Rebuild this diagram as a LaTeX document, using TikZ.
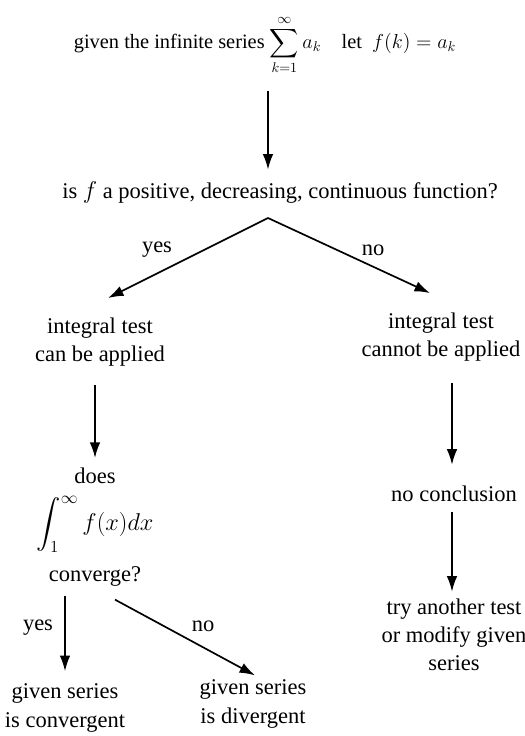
\documentclass[tikz,border=0pt]{standalone}
\usepackage{amsmath}
\usepackage[no-math]{fontspec}
\setmainfont{Liberation Serif}
\usetikzlibrary{arrows.meta}

\begin{document}
\begin{tikzpicture}[
    x=0.025cm, y=-0.025cm,
    every node/.style={font=\fontsize{16}{20}\selectfont, align=center, inner sep=1pt},
    toptext/.style={font=\fontsize{14.5}{18}\selectfont},
    arrow/.style={-{Latex[length=11pt, width=7.5pt]}, line width=1.2pt}
]
\useasboundingbox (0,0) rectangle (525,736);

\node (given)  [toptext] at (265,45)
    {given the infinite series\ $\displaystyle\sum_{k=1}^{\infty} a_k$\quad let\ \ $f(k)=a_k$};
\node (ask)    at (280,192) {is $f$ a positive, decreasing, continuous function?};
\coordinate (fork) at (268,218);
\node (can)    at (100,342) {integral test\\can be applied};
\node (cannot) at (441,337) {integral test\\cannot be applied};
\node (does)   at (95,527)
    {does\\[8pt]{\fontsize{18}{20}\selectfont$\displaystyle\int_1^\infty f(x)dx$}\\[9pt]converge?};
\node (nocon)  at (454,494) {no conclusion};
\node (other)  at (454,635) {try another test\\or modify given\\series};
\node (conv)   at (65,708)  {given series\\is convergent};
\node (div)    at (253,704) {given series\\is divergent};

\node (yes1) at (157,250) {yes};
\node (no1)  at (373,250) {no};
\node (yes2) at (38,628)  {yes};
\node (no2)  at (203,626) {no};

\draw [arrow, shorten <=10pt, shorten >=7pt] (given.south -| fork) -- (ask.north -| fork);
\draw [arrow] (fork) -- ([shift={(8,-18)}]can.north);
\draw [arrow] (fork) -- ([shift={(-11,-18)}]cannot.north);
\draw [arrow, shorten <=12pt, shorten >=6pt] (can.south -| does.north) -- (does.north);
\draw [arrow, shorten <=14pt, shorten >=14pt] (cannot.south -| 452,0) -- (nocon.north -| 452,0);
\draw [arrow, shorten <=6pt, shorten >=4pt] (nocon.south -| 452,0) -- (other.north -| 452,0);
\draw [arrow, shorten <=6pt, shorten >=8pt] (does.south -| conv.north) -- (conv.north);
\draw [arrow] ([shift={(20,12)}]does.south) -- ([shift={(2,-3)}]div.north);
\end{tikzpicture}
\end{document}
